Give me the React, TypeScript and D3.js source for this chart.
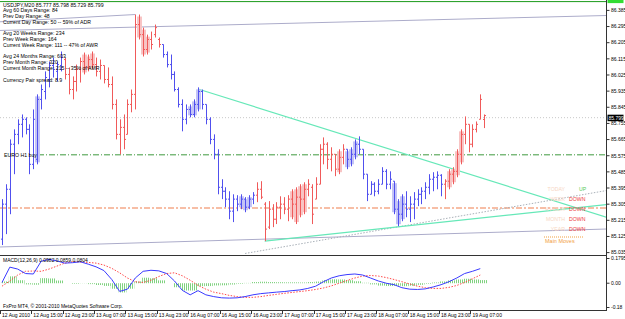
import React from "react";
import * as d3 from "d3";

// ---------------- data ----------------
const titleLine = "USDJPY,M20  85.777 85.798 85.729 85.799";
const infoLines = [
  "Avg 60 Days Range: 84",
  "Prev Day Range: 48",
  "Current Day Range: 50 -- 59% of ADR",
  "Avg 20 Weeks Range: 234",
  "Prev Week Range: 164",
  "Current Week Range: 111 -- 47% of AWR",
  "Avg 24 Months Range: 603",
  "Prev Month Range: 320",
  "Current Month Range: 215 -- 35% of AMR",
  "Currency Pair spread: 8.9",
];
const infoBaselines = [12.3, 17.7, 23.5, 35, 40.7, 46.5, 58.3, 64, 70, 82];

const timeLabels = [
  "12 Aug 2010", "12 Aug 15:00", "12 Aug 23:00", "13 Aug 07:00", "13 Aug 15:00",
  "13 Aug 23:00", "16 Aug 07:00", "16 Aug 15:00", "16 Aug 23:00", "17 Aug 07:00",
  "17 Aug 15:00", "17 Aug 23:00", "18 Aug 07:00", "18 Aug 15:00", "18 Aug 23:00",
  "19 Aug 07:00",
];
const timeLabelBars = [0, 8, 16, 24, 32, 40, 48, 56, 64, 72, 80, 88, 96, 104, 112, 120];

const priceTicks = [85.035, 85.125, 85.215, 85.305, 85.395, 85.485, 85.575, 85.665,
  85.755, 85.845, 85.935, 86.025, 86.115, 86.205, 86.295, 86.385];

const opens = [
  85.110, 85.305, 85.388, 85.639, 85.694, 85.750, 85.778, 85.722,
  85.527, 85.555, 85.889, 85.933, 86.000, 86.078, 86.045, 86.078,
  86.111, 86.028, 85.944, 85.989, 86.056, 86.100, 86.067, 86.111,
  86.083, 86.045, 86.078, 86.000, 85.972, 85.861, 85.694, 85.733,
  85.694, 85.861, 85.917, 86.306, 86.250, 86.167, 86.223, 86.250,
  86.223, 86.195, 86.139, 86.083, 86.028, 85.944, 85.861, 85.778,
  85.833, 85.805, 85.861, 85.933, 85.861, 85.778, 85.666, 85.583,
  85.399, 85.377, 85.333, 85.266, 85.333, 85.305, 85.333, 85.288,
  85.333, 85.355, 85.388, 85.305, 85.177, 85.277, 85.221, 85.288,
  85.305, 85.277, 85.333, 85.305, 85.344, 85.333, 85.388, 85.399,
  85.333, 85.416, 85.611, 85.639, 85.555, 85.583, 85.500, 85.566,
  85.611, 85.555, 85.583, 85.639, 85.611, 85.472, 85.360, 85.416,
  85.377, 85.416, 85.488, 85.416, 85.433, 85.277, 85.249, 85.305,
  85.277, 85.305, 85.333, 85.360, 85.377, 85.399, 85.444, 85.455,
  85.466, 85.416, 85.433, 85.472, 85.488, 85.583, 85.694, 85.750,
  85.639, 85.722, 85.778, 85.777,
];
const highs = [
  85.333, 85.416, 85.666, 85.722, 85.778, 85.805, 85.789, 85.750,
  85.833, 85.917, 85.972, 86.045, 86.100, 86.122, 86.100, 86.156,
  86.122, 86.067, 86.017, 86.083, 86.122, 86.150, 86.139, 86.156,
  86.122, 86.111, 86.078, 86.067, 86.017, 85.889, 85.778, 85.805,
  85.889, 85.944, 86.362, 86.362, 86.289, 86.250, 86.267, 86.306,
  86.234, 86.195, 86.156, 86.139, 86.045, 85.956, 85.889, 85.861,
  85.861, 85.889, 85.956, 85.944, 85.861, 85.789, 85.694, 85.611,
  85.444, 85.399, 85.377, 85.360, 85.355, 85.360, 85.344, 85.355,
  85.372, 85.427, 85.433, 85.316, 85.322, 85.305, 85.316, 85.349,
  85.344, 85.355, 85.388, 85.399, 85.416, 85.427, 85.444, 85.416,
  85.455, 85.639, 85.677, 85.650, 85.622, 85.583, 85.611, 85.639,
  85.611, 85.622, 85.666, 85.683, 85.611, 85.472, 85.433, 85.427,
  85.444, 85.511, 85.500, 85.488, 85.433, 85.333, 85.360, 85.377,
  85.349, 85.372, 85.388, 85.399, 85.427, 85.472, 85.483, 85.488,
  85.472, 85.444, 85.500, 85.511, 85.611, 85.722, 85.794, 85.750,
  85.750, 85.766, 85.917, 85.805,
];
const lows = [
  85.077, 85.138, 85.249, 85.472, 85.639, 85.677, 85.694, 85.472,
  85.500, 85.527, 85.833, 85.889, 85.956, 86.011, 85.989, 86.045,
  86.000, 85.917, 85.889, 85.933, 85.983, 86.028, 86.045, 86.056,
  86.017, 86.000, 85.978, 85.956, 85.833, 85.666, 85.583, 85.611,
  85.694, 85.817, 85.833, 86.223, 86.128, 86.139, 86.167, 86.234,
  86.178, 86.122, 86.067, 86.000, 85.933, 85.844, 85.711, 85.750,
  85.789, 85.789, 85.822, 85.833, 85.750, 85.639, 85.555, 85.360,
  85.333, 85.288, 85.221, 85.205, 85.266, 85.277, 85.260, 85.277,
  85.305, 85.316, 85.333, 85.099, 85.166, 85.177, 85.194, 85.221,
  85.249, 85.210, 85.221, 85.194, 85.232, 85.249, 85.349, 85.194,
  85.333, 85.416, 85.527, 85.500, 85.488, 85.461, 85.472, 85.527,
  85.500, 85.516, 85.555, 85.583, 85.444, 85.322, 85.360, 85.349,
  85.360, 85.416, 85.388, 85.388, 85.249, 85.182, 85.210, 85.232,
  85.205, 85.221, 85.294, 85.305, 85.333, 85.360, 85.377, 85.388,
  85.349, 85.333, 85.388, 85.416, 85.455, 85.527, 85.639, 85.594,
  85.622, 85.705, 85.778, 85.729,
];
const closes = [
  85.305, 85.388, 85.639, 85.694, 85.750, 85.778, 85.722, 85.527,
  85.778, 85.889, 85.944, 86.011, 86.078, 86.056, 86.083, 86.122,
  86.028, 85.944, 85.989, 86.056, 86.100, 86.067, 86.111, 86.083,
  86.045, 86.078, 86.000, 85.972, 85.861, 85.694, 85.733, 85.666,
  85.861, 85.917, 86.306, 86.250, 86.167, 86.223, 86.195, 86.289,
  86.195, 86.139, 86.083, 86.028, 85.944, 85.861, 85.778, 85.833,
  85.805, 85.861, 85.933, 85.861, 85.778, 85.666, 85.583, 85.399,
  85.377, 85.333, 85.266, 85.333, 85.305, 85.333, 85.288, 85.333,
  85.355, 85.388, 85.344, 85.166, 85.277, 85.221, 85.288, 85.305,
  85.277, 85.333, 85.305, 85.344, 85.333, 85.388, 85.416, 85.249,
  85.416, 85.611, 85.639, 85.555, 85.583, 85.500, 85.566, 85.611,
  85.555, 85.583, 85.639, 85.611, 85.472, 85.360, 85.416, 85.377,
  85.416, 85.488, 85.416, 85.444, 85.277, 85.249, 85.305, 85.277,
  85.305, 85.333, 85.360, 85.377, 85.399, 85.444, 85.455, 85.466,
  85.416, 85.433, 85.472, 85.488, 85.583, 85.694, 85.750, 85.639,
  85.722, 85.750, 85.889, 85.799,
];
// r = red (bull trend colour), b = blue (bear trend colour)
const barTrend =
  "bbbbbbbbbbbbbbbb" + "rrrrrrrrrrrrrrrrrrrrrrrrr" + "bbbbbbbbbbbbbbbbbbbbbbbb" +
  "rrrrrrrrrrrrrrrrrrrrrrr" + "bbbbbbbbbbbbbbbbbbbbbbbbb" + "rrrrrrrrrrr";
const shadedBars = [9, 21, 22, 23, 35, 36, 37, 48, 49, 50, 61, 62, 63, 74, 75, 76, 77,
  86, 88, 89, 90, 100, 101, 102, 114, 115, 116, 117];

// MACD samples, one per two bars (bar index = 2*k)
const macdMain = [
  0.005, 0.108, 0.095, 0.065, 0.062, 0.148, 0.160, 0.150, 0.135, 0.138,
  0.144, 0.128, 0.110, 0.085, 0.025, -0.055, -0.040, 0.035, 0.080, 0.087,
  0.083, 0.065, 0.015, -0.048, -0.078, -0.050, -0.078, -0.090, -0.098, -0.100,
  -0.098, -0.090, -0.078, -0.070, -0.065, -0.060, -0.056, -0.050, -0.045, -0.035,
  -0.020, 0.010, 0.035, 0.050, 0.058, 0.062, 0.055, 0.035, 0.015, 0.000,
  -0.010, -0.030, -0.040, -0.042, -0.038, -0.025, -0.010, 0.010, 0.035, 0.065,
  0.080, 0.098,
];
const macdSignal = [
  -0.020, 0.015, 0.055, 0.080, 0.082, 0.080, 0.095, 0.115, 0.135, 0.145,
  0.142, 0.140, 0.135, 0.122, 0.100, 0.070, 0.035, 0.010, 0.005, 0.020,
  0.045, 0.065, 0.070, 0.050, 0.020, -0.015, -0.040, -0.060, -0.070, -0.082,
  -0.090, -0.095, -0.095, -0.090, -0.082, -0.075, -0.068, -0.062, -0.056, -0.050,
  -0.042, -0.032, -0.018, 0.000, 0.018, 0.035, 0.048, 0.052, 0.048, 0.038,
  0.025, 0.010, -0.005, -0.020, -0.030, -0.035, -0.035, -0.028, -0.015, 0.005,
  0.030, 0.055,
];
const macdHist = [
  0.012, 0.046, 0.020, -0.008, -0.010, 0.034, 0.032, 0.018, 0.000, -0.004,
  0.001, -0.006, -0.012, -0.018, -0.037, -0.062, -0.037, 0.012, 0.037, 0.033,
  0.019, 0.000, -0.027, -0.049, -0.049, -0.020, -0.019, -0.015, -0.014, -0.009,
  -0.004, 0.002, 0.008, 0.010, 0.008, 0.007, 0.006, 0.006, 0.005, 0.008,
  0.011, 0.021, 0.026, 0.025, 0.020, 0.013, 0.003, -0.008, -0.016, -0.019,
  -0.017, -0.020, -0.017, -0.011, -0.004, 0.005, 0.012, 0.019, 0.025, 0.030,
  0.025, 0.021,
];

// levels & trend lines: [barIndex, price]
const topLevel = 86.434;
const buyLevel = 85.580;
const salmonLevel = 85.284;
const bidLevel = 85.787;
const bidText = "85.799";
const cyanDown = [[50, 85.947], [155, 85.227]];
const cyanUp = [[67, 85.099], [155, 85.305]];
const dottedUp = [[62, 85.030], [155, 85.384]];
const grayUpper = [[-1, 86.273], [155, 86.357]];
const grayUpper2 = [[-1, 86.321], [34, 86.362]];
const grayLower = [[-1, 85.066], [155, 85.167]];

const legendLabels = ["TODAY", "WEEK", "4 HOUR", "MONTH", "YEAR"];
const legendValues = ["UP", "DOWN", "DOWN", "DOWN", "DOWN"];

// ---------------- drawing ----------------
const RED = "#f05a5a";
const BLUE = "#5050ee";
const FONT = "'Liberation Sans', Arial, sans-serif";

export default function App() {
  const PR = 606; // plot right
  const MAIN_BOT = 255.5;
  const SUB_BOT = 310.5;
  const x = d3.scaleLinear().domain([0, 123]).range([2, 484.2]);
  const y = d3.scaleLinear().domain([85.035, 86.385]).range([252.6, 10.4]);
  const ym = d3.scaleLinear().domain([-0.18, 0.1795]).range([310, 256.5]);
  const seg = (a: number[][]) => ({ x1: x(a[0][0]), y1: y(a[0][1]), x2: x(a[1][0]), y2: y(a[1][1]) });
  const macdLine = d3.line<number>().x((_, k) => x(2 * k)).y((v) => ym(v));

  return (
    <svg width={625} height={319} style={{ position: "absolute", left: 0, top: 0, background: "#fff" }}
      fontFamily={FONT}>
      <defs>
        <clipPath id="mainClip"><rect x={0} y={0} width={PR} height={MAIN_BOT} /></clipPath>
        <clipPath id="subClip"><rect x={0} y={MAIN_BOT + 1} width={PR} height={SUB_BOT - MAIN_BOT - 1} /></clipPath>
        <pattern id="hatch" width={2} height={4} patternUnits="userSpaceOnUse">
          <rect x={0} y={0} width={1} height={4} fill="#7fd27f" />
        </pattern>
      </defs>
      <rect x={0} y={0} width={625} height={319} fill="#fff" />

      <g clipPath="url(#mainClip)">
        {/* horizontal levels */}
        <line x1={0} x2={PR} y1={y(topLevel)} y2={y(topLevel)} stroke="#1a9a1a" strokeWidth={1} />
        <line x1={0} x2={PR} y1={y(bidLevel)} y2={y(bidLevel)} stroke="#c8c8c8" strokeDasharray="1,2" />
        <line x1={38} x2={PR} y1={y(buyLevel)} y2={y(buyLevel)} stroke="#3f9a3f" strokeDasharray="6,2,1,2" />
        <line x1={0} x2={PR} y1={y(salmonLevel)} y2={y(salmonLevel)} stroke="#f7bea6" strokeWidth={2}
          strokeDasharray="6,2,2,2" />
        {/* trend lines */}
        <line {...seg(grayUpper)} stroke="#acacca" />
        <line {...seg(grayUpper2)} stroke="#acacca" />
        <line {...seg(grayLower)} stroke="#acacca" />
        <line {...seg(dottedUp)} stroke="#a9b0b8" strokeDasharray="1.5,1.5" />
        <line {...seg(cyanDown)} stroke="#66e8b8" strokeWidth={1.2} />
        <line {...seg(cyanUp)} stroke="#66e8b8" strokeWidth={1.2} />

        {/* shaded trend bodies */}
        {shadedBars.map((i) => {
          const cx = Math.round(x(i)) + 0.5;
          const top = y(highs[i]);
          const bot = y(lows[i]);
          return (
            <rect key={"s" + i} x={cx - 2.5} width={5} y={top + 2} height={Math.max(1, bot - top - 4)}
              fill={barTrend[i] === "r" ? "#f8c4c4" : "#c4c4f6"} />
          );
        })}
        {/* OHLC bars */}
        {opens.map((o, i) => {
          const cx = Math.round(x(i)) + 0.5;
          const col = barTrend[i] === "r" ? RED : BLUE;
          return (
            <g key={i} stroke={col}>
              <line x1={cx} x2={cx} y1={y(highs[i])} y2={y(lows[i])} />
              <line x1={cx - 1.5} x2={cx} y1={y(o)} y2={y(o)} />
              <line x1={cx} x2={cx + 1.5} y1={y(closes[i])} y2={y(closes[i])} />
            </g>
          );
        })}
      </g>

      {/* info text */}
      <g fontSize={5.2} fill="#000">
        <text x={3} y={7}>{titleLine}</text>
        {infoLines.map((t, k) => (
          <text key={k} x={3} y={infoBaselines[k]}>{t}</text>
        ))}
        <text x={4} y={y(buyLevel) + 1.8}>EURO H1 buy</text>
      </g>

      {/* legend */}
      <g fontSize={5.2}>
        {legendLabels.map((t, k) => (
          <g key={k}>
            <text x={565} y={191.3 + k * 10} textAnchor="end" fill="#f7d6c4">{t}</text>
            <text x={legendValues[k] === "UP" ? 579 : 569} y={191.3 + k * 10}
              fill={legendValues[k] === "UP" ? "#55cc55" : "#ee3a3a"}>{legendValues[k]}</text>
          </g>
        ))}
        <line x1={544} x2={584} y1={237} y2={237} stroke="#f2a040" strokeDasharray="1,1" />
        <text x={545} y={243} fill="#f2a040" fontSize={5.5}>Main Moves</text>
      </g>

      {/* MACD */}
      <g clipPath="url(#subClip)">
        {macdHist.map((h, k) => {
          const x0 = x(2 * k) - 1;
          return (
            <rect key={k} x={x0} width={x(2) - x(0)} y={Math.min(ym(0), ym(h))}
              height={Math.abs(ym(h) - ym(0))} fill="url(#hatch)" />
          );
        })}
        <path d={macdLine(macdSignal) || ""} fill="none" stroke="#ff4a4a" strokeDasharray="1.5,1.5" />
        <path d={macdLine(macdMain) || ""} fill="none" stroke="#3a3aff" />
      </g>
      <text x={3} y={261.5} fontSize={5} fill="#000">MACD(12,26,9) 0.0982 0.0859 0.0804</text>
      <text x={3} y={308} fontSize={5} fill="#000">FxPro MT4, © 2001-2010 MetaQuotes Software Corp.</text>

      {/* frame */}
      <line x1={PR + 0.5} x2={PR + 0.5} y1={0} y2={SUB_BOT} stroke="#333" />
      <line x1={0} x2={PR} y1={MAIN_BOT} y2={MAIN_BOT} stroke="#333" />
      <line x1={0} x2={PR + 1} y1={SUB_BOT} y2={SUB_BOT} stroke="#333" />

      {/* price axis */}
      <g fontSize={5} fill="#000">
        {priceTicks.map((p, k) => {
          const yy = Math.min(y(p), MAIN_BOT - 2.5);
          return (
            <g key={k}>
              <line x1={PR + 1} x2={PR + 3.5} y1={yy} y2={yy} stroke="#333" />
              <text x={611} y={yy + 1.8}>{p.toFixed(3)}</text>
            </g>
          );
        })}
        <rect x={607.5} y={y(topLevel) - 5.5} width={16} height={7} fill="#33dd33" />
        <rect x={607.5} y={y(bidLevel) - 3} width={16} height={6.5} fill="#000" />
        <text x={608.5} y={y(bidLevel) + 1.9} fill="#fff">{bidText}</text>
        {/* MACD axis */}
        <line x1={PR + 1} x2={PR + 3.5} y1={258.5} y2={258.5} stroke="#333" />
        <text x={611} y={260.3}>0.1795</text>
        <line x1={PR + 1} x2={PR + 3.5} y1={ym(0)} y2={ym(0)} stroke="#333" />
        <text x={611} y={ym(0) + 1.8}>0.00</text>
        <line x1={PR + 1} x2={PR + 3.5} y1={307.5} y2={307.5} stroke="#333" />
        <text x={611} y={309.3}>-0.18</text>
      </g>

      {/* time axis */}
      <g fontSize={5} fill="#000">
        {timeLabelBars.map((b, k) => {
          const tx = x(b);
          return (
            <g key={k}>
              <line x1={Math.round(tx) - 1.5} x2={Math.round(tx) - 1.5} y1={SUB_BOT} y2={SUB_BOT + 3.5} stroke="#333" />
              <text x={tx} y={317}>{timeLabels[k]}</text>
            </g>
          );
        })}
      </g>
    </svg>
  );
}
